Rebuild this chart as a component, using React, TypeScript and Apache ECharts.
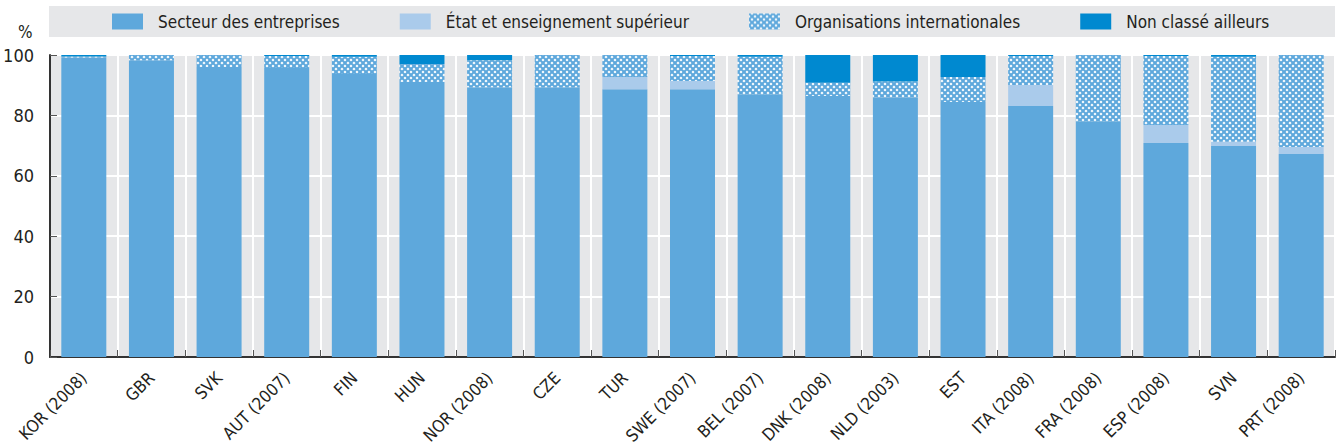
import React, { useEffect, useRef } from "react";
import * as echarts from "echarts";

const categories = [
  "KOR (2008)", "GBR", "SVK", "AUT (2007)", "FIN", "HUN", "NOR (2008)", "CZE", "TUR",
  "SWE (2007)", "BEL (2007)", "DNK (2008)", "NLD (2003)", "EST", "ITA (2008)",
  "FRA (2008)", "ESP (2008)", "SVN", "PRT (2008)",
];
const business = [99.2, 98.3, 96.0, 95.7, 93.7, 91.1, 89.3, 89.3, 88.7, 88.7, 86.8, 86.4, 85.9, 84.4, 83.1, 77.9, 70.9, 69.9, 67.2];
const government = [0, 0, 0, 0, 0, 0, 0, 0, 4.0, 2.7, 0, 0, 0, 0, 7.0, 0, 5.9, 1.4, 2.3];
const international = [0.3, 1.7, 4.0, 4.0, 5.7, 5.9, 9.0, 10.7, 7.3, 8.3, 12.6, 4.4, 5.3, 8.3, 9.6, 22.1, 22.9, 28.1, 30.5];
const notElsewhere = [0.5, 0, 0, 0.3, 0.6, 3.0, 1.7, 0, 0, 0.3, 0.6, 9.2, 8.8, 7.3, 0.3, 0, 0.3, 0.6, 0];
const seriesNames = [
  "Secteur des entreprises",
  "État et enseignement supérieur",
  "Organisations internationales",
  "Non classé ailleurs",
];
const yTicks = [0, 20, 40, 60, 80, 100];

const FONT = "'Liberation Sans Narrow', 'DejaVu Sans Condensed', 'Liberation Sans', sans-serif";
const TEXT = "#231f20";

function makeHatch(): string {
  const c = document.createElement("canvas");
  c.width = 6;
  c.height = 6;
  const ctx = c.getContext("2d")!;
  ctx.fillStyle = "#ffffff";
  ctx.fillRect(0, 0, 6, 6);
  ctx.strokeStyle = "#5ea8dc";
  ctx.lineWidth = 2.1;
  ctx.beginPath();
  ctx.moveTo(-1, -1); ctx.lineTo(7, 7);
  ctx.moveTo(7, -1); ctx.lineTo(-1, 7);
  ctx.stroke();
  return c.toDataURL();
}

export default function App() {
  const ref = useRef<HTMLDivElement>(null);
  useEffect(() => {
    document.body.style.margin = "0";
    const chart = echarts.init(ref.current!, null, { renderer: "svg" });
    const hatch = { image: makeHatch(), repeat: "repeat" };
    const colors: any[] = ["#5ea8dc", "#aacbeb", hatch, "#0089d0"];
    const datasets = [business, government, international, notElsewhere];
    chart.setOption({
      animation: false,
      textStyle: { fontFamily: FONT },
      graphic: [
        { type: "rect", left: 49, top: 6, shape: { width: 1286, height: 31 }, style: { fill: "#e6e7e9" }, z: -1 },
        { type: "text", left: 18, top: 23, style: { text: "%", fontSize: 17, fill: TEXT, fontFamily: FONT } },
      ],
      legend: {
        left: 112,
        top: 13,
        padding: 0,
        itemWidth: 31,
        itemHeight: 16,
        itemGap: 60,
        icon: "rect",
        data: seriesNames,
        textStyle: { fontSize: 17, color: TEXT, fontFamily: FONT, padding: [0, 0, 0, 10] },
      },
      grid: {
        left: 50,
        right: 2,
        top: 55,
        bottom: 91,
        show: true,
        backgroundColor: "#e6e7e9",
        borderWidth: 0,
      },
      xAxis: {
        type: "category",
        data: categories,
        axisLine: { lineStyle: { color: "#333", width: 2 } },
        axisTick: { show: true, inside: true, length: 7, interval: 0, lineStyle: { color: "#555" } },
        splitLine: { show: true, interval: 0, lineStyle: { color: "#ffffff", width: 2 } },
        axisLabel: { interval: 0, rotate: 45, margin: 18, fontSize: 17, color: TEXT, fontFamily: FONT },
      },
      yAxis: {
        type: "value",
        min: yTicks[0],
        max: yTicks[yTicks.length - 1],
        interval: 20,
        axisLine: { show: true, lineStyle: { color: "#333", width: 2 } },
        axisTick: { show: true, inside: true, length: 7, lineStyle: { color: "#555" } },
        splitLine: { show: true, lineStyle: { color: "#ffffff", width: 2 } },
        axisLabel: { margin: 16, fontSize: 18, color: TEXT, fontFamily: FONT },
      },
      series: datasets.map((d, i) => ({
        name: seriesNames[i],
        type: "bar",
        stack: "total",
        barWidth: 45,
        data: d,
        itemStyle: { color: colors[i] },
        emphasis: { disabled: true },
      })),
    });
    return () => chart.dispose();
  }, []);
  return <div ref={ref} style={{ width: 1337, height: 448 }} />;
}
